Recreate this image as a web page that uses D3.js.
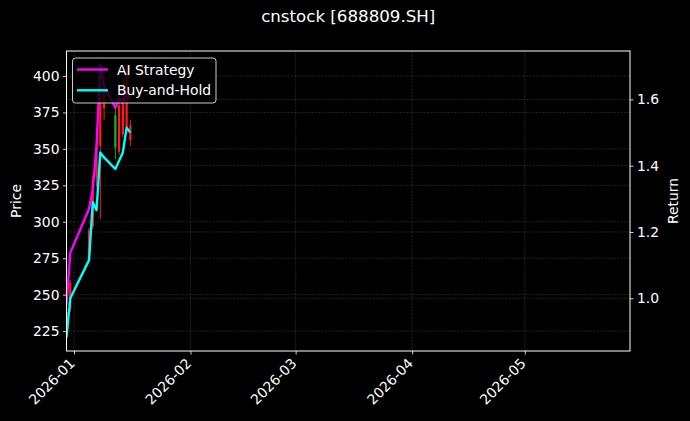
<!DOCTYPE html>
<html><head><meta charset="utf-8">
<script src="https://cdn.jsdelivr.net/npm/d3@7"></script>
<style>
body{margin:0;background:#000}
svg{display:block}
text{font-family:"DejaVu Sans",sans-serif;fill:#fff}
</style>
</head><body>
<svg id="c" width="690" height="421"></svg>
<script>
// ---- data ----
const tradeDates = ["2025-12-30","2025-12-31","2026-01-05","2026-01-06","2026-01-07","2026-01-08","2026-01-09","2026-01-12","2026-01-13","2026-01-14","2026-01-15","2026-01-16"];
const openPrice  = [224, 240, 277, 297, 330, 352, 378, 373, 348, 360, 365, 356];
const highPrice  = [243, 260, 296, 332, 358, 395, 400, 379, 384, 400, 407.8, 370];
const lowPrice   = [220.7, 238, 275, 295, 324, 302, 370, 343, 346, 358, 362, 352];
const closePrice = [238, 258, 294, 328, 352, 385, 392, 351, 380, 395, 402, 366];
const aiStrategy = [0.98, 1.137, 1.27, 1.33, 1.46, 1.705, 1.64, 1.575, 1.605, 1.59, 1.62, 1.60];
const buyAndHold = [0.882, 1.00, 1.115, 1.29, 1.266, 1.44, 1.425, 1.39, 1.415, 1.44, 1.515, 1.50];
const priceTicks = [225, 250, 275, 300, 325, 350, 375, 400];
const returnTicks = [1.0, 1.2, 1.4, 1.6];
const monthTicks = ["2026-01-01","2026-02-01","2026-03-01","2026-04-01","2026-05-01"];
const xLimits = ["2025-12-30","2026-05-29"];
const seriesNames = ["AI Strategy","Buy-and-Hold"];
const seriesColors = ["#ff00ff","#00ffff"];
const titleText = "cnstock [688809.SH]";

// ---- layout ----
const W = 690, H = 421;
const L = 66.5, R = 630, T = 51, B = 351;
const parse = d3.timeParse("%Y-%m-%d");
const fmt = d3.timeFormat("%Y-%m");
const svg = d3.select("#c");
svg.append("rect").attr("width", W).attr("height", H).attr("fill", "#000");

const x = d3.scaleTime().domain(xLimits.map(parse)).range([L, R]);
function padded(lo, hi) { const m = (hi - lo) * 0.05; return [lo - m, hi + m]; }
const yP = d3.scaleLinear().domain(padded(d3.min(lowPrice), d3.max(highPrice))).range([B, T]);
const allRet = aiStrategy.concat(buyAndHold);
const yR = d3.scaleLinear().domain(padded(d3.min(allRet), d3.max(allRet))).range([B, T]);

const dates = tradeDates.map(parse);
const candles = dates.map((d, i) => ({d, o: openPrice[i], h: highPrice[i], l: lowPrice[i], c: closePrice[i]}));

svg.append("defs").append("clipPath").attr("id", "clip")
  .append("rect").attr("x", L).attr("y", T).attr("width", R - L).attr("height", B - T);

// grid
const grid = svg.append("g").attr("stroke", "#8a8a8a").attr("stroke-opacity", 0.42)
  .attr("stroke-width", 0.6).attr("stroke-dasharray", "2.2,1.2");
monthTicks.map(parse).forEach(t => {
  grid.append("line").attr("x1", x(t)).attr("x2", x(t)).attr("y1", T).attr("y2", B);
});
priceTicks.forEach(v => {
  grid.append("line").attr("x1", L).attr("x2", R).attr("y1", yP(v)).attr("y2", yP(v));
});
returnTicks.forEach(v => {
  grid.append("line").attr("x1", L).attr("x2", R).attr("y1", yR(v)).attr("y2", yR(v));
});

// candles
const plot = svg.append("g").attr("clip-path", "url(#clip)");
const halfDay = 0.3 * 24 * 3600 * 1000;
const cg = plot.append("g");
candles.forEach(k => {
  const col = k.c >= k.o ? "#ff1a1a" : "#1faa1f";
  const cx = x(k.d);
  cg.append("line").attr("x1", cx).attr("x2", cx).attr("y1", yP(k.h)).attr("y2", yP(k.l))
    .attr("stroke", col).attr("stroke-width", 1);
  const x0 = x(new Date(+k.d - halfDay)), x1 = x(new Date(+k.d + halfDay));
  cg.append("rect").attr("x", x0).attr("width", x1 - x0)
    .attr("y", yP(Math.max(k.o, k.c))).attr("height", Math.max(0.8, Math.abs(yP(k.o) - yP(k.c))))
    .attr("fill", col);
});

// lines
const line = d3.line().x((d, i) => x(dates[i])).y(d => yR(d));
[aiStrategy, buyAndHold].forEach((s, j) => {
  plot.append("path").datum(s).attr("d", line).attr("fill", "none")
    .attr("stroke", seriesColors[j]).attr("stroke-width", 2.4).attr("stroke-linejoin", "round");
});

// axes
const axL = svg.append("g").attr("transform", `translate(${L},0)`)
  .call(d3.axisLeft(yP).tickValues(priceTicks).tickSize(3.5).tickPadding(3.5).tickFormat(d3.format("d")));
const axR = svg.append("g").attr("transform", `translate(${R},0)`)
  .call(d3.axisRight(yR).tickValues(returnTicks).tickSize(3.5).tickPadding(3.5).tickFormat(d3.format(".1f")));
const axB = svg.append("g").attr("transform", `translate(0,${B})`)
  .call(d3.axisBottom(x).tickValues(monthTicks.map(parse)).tickSize(3.5).tickFormat(fmt));
[axL, axR, axB].forEach(a => {
  a.select(".domain").remove();
  a.selectAll(".tick line").attr("stroke", "#fff").attr("stroke-width", 0.8);
  a.selectAll(".tick text").attr("fill", "#fff").style("font-size", "13.9px").style("font-family", "DejaVu Sans");
});
axB.selectAll(".tick text")
  .attr("text-anchor", "end").attr("dy", null)
  .attr("transform", "translate(-6,6) rotate(-45)")
  .attr("y", 0).attr("x", 0).attr("dominant-baseline", "hanging");

// frame
svg.append("rect").attr("x", L).attr("y", T).attr("width", R - L).attr("height", B - T)
  .attr("fill", "none").attr("stroke", "#fff").attr("stroke-width", 1);

// labels
svg.append("text").attr("x", (L + R) / 2).attr("y", 22).attr("text-anchor", "middle")
  .style("font-size", "16.67px").text(titleText);
svg.append("text").attr("transform", `translate(21,${(T + B) / 2}) rotate(-90)`)
  .attr("text-anchor", "middle").style("font-size", "13.9px").text("Price");
svg.append("text").attr("transform", `translate(678,${(T + B) / 2}) rotate(-90)`)
  .attr("text-anchor", "middle").style("font-size", "13.9px").text("Return");

// legend
const lg = svg.append("g");
lg.append("rect").attr("x", 72.5).attr("y", 58).attr("width", 143.5).attr("height", 45)
  .attr("rx", 3).attr("fill", "#000").attr("fill-opacity", 0.8)
  .attr("stroke", "#ccc").attr("stroke-width", 1);
seriesNames.forEach((n, i) => {
  const yy = 69.5 + i * 20.8;
  lg.append("line").attr("x1", 77).attr("x2", 108).attr("y1", yy).attr("y2", yy)
    .attr("stroke", seriesColors[i]).attr("stroke-width", 2.4);
  lg.append("text").attr("x", 117).attr("y", yy + 5).style("font-size", "13.9px").text(n);
});
</script>
</body></html>
